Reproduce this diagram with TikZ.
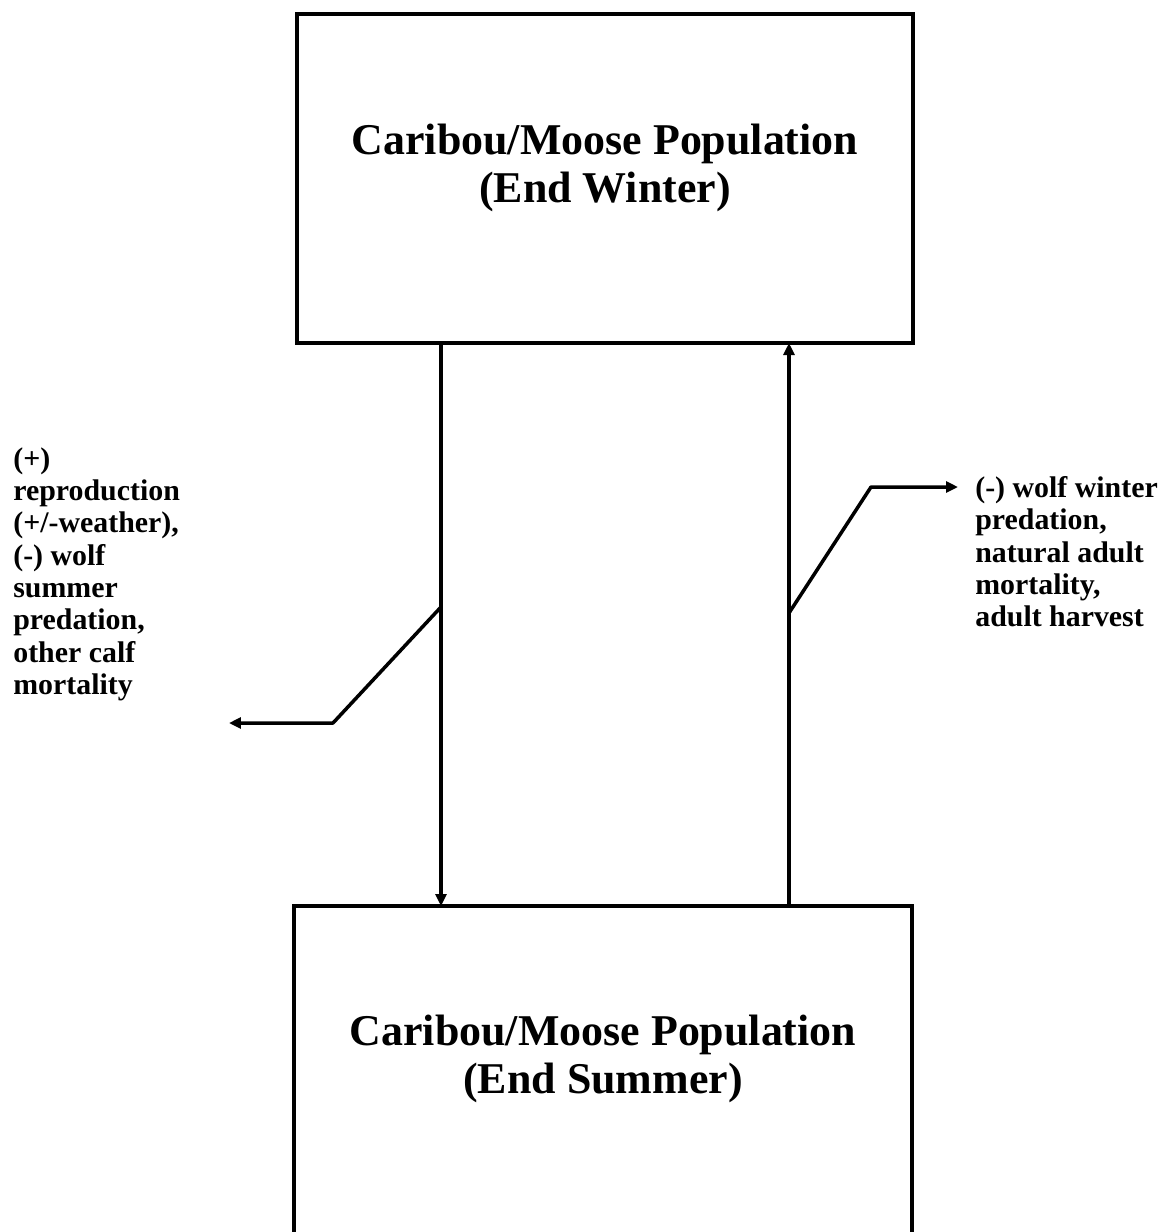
\documentclass[tikz,border=0pt]{standalone}
\usepackage{fontspec}
\setmainfont{Liberation Serif}
\usetikzlibrary{arrows.meta}
\begin{document}
\begin{tikzpicture}[x=0.02cm,y=-0.02cm,
  box/.style={draw,line width=2pt,inner sep=0pt},
  title/.style={font=\bfseries\fontsize{25}{27}\selectfont,align=center,inner sep=0pt},
  lbl/.style={font=\bfseries\fontsize{17}{18.4}\selectfont,align=left,inner sep=0pt,anchor=north west},
  flow/.style={line width=2pt,-{Triangle[length=0.24cm,width=0.22cm]}}]
\clip (0,0) rectangle (1171,1232);
\fill[white] (0,0) rectangle (1171,1232);
% boxes
\node[box,minimum width=12.32cm,minimum height=6.58cm] (winter) at (605,178.5) {};
\node[box,minimum width=12.36cm,minimum height=6.9cm] (summer) at (603,1078.5) {};
\node[title] (wt) at (605,168) {Caribou/Moose Population\\(End Winter)};
\node[title] (st) at (603,1059) {Caribou/Moose Population\\(End Summer)};
% main connectors
\coordinate (dtop) at (441,343);
\coordinate (dbot) at (441,906);
\coordinate (utop) at (789,343);
\coordinate (ubot) at (789,906);
\draw[flow] (dtop) -- (dbot);
\draw[flow] (ubot) -- (utop);
% branches
\coordinate (lj) at (441,607);
\coordinate (lc) at (333,723);
\coordinate (lt) at (229,723);
\coordinate (rj) at (789,613);
\coordinate (rc) at (871,487);
\coordinate (rt) at (958,487);
\draw[flow,line join=round] (lj) -- (lc) -- (lt);
\draw[flow,line join=round] (rj) -- (rc) -- (rt);
% labels
\node[lbl] (ll) at (13,447) {(+)\\reproduction\\(+/-weather),\\(-) wolf\\summer\\predation,\\other calf\\mortality};
\node[lbl] (rl) at (975,476) {(-) wolf winter\\predation,\\natural adult\\mortality,\\adult harvest};
\end{tikzpicture}
\end{document}
